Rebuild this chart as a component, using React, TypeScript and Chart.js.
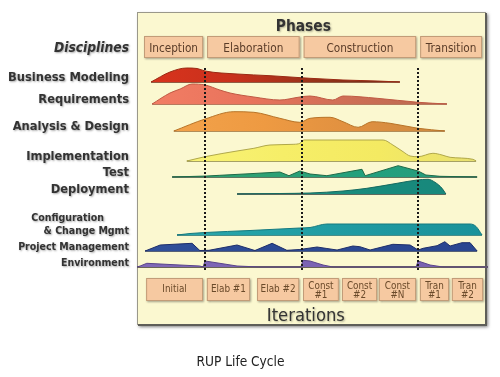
import React, { useEffect, useRef } from 'react';
import { Chart, registerables } from 'chart.js';

Chart.register(...registerables);

// ---------------- data ----------------
// Timeline: % of project duration (0-100). Effort: relative units above each lane.
const phaseNames = ['Inception', 'Elaboration', 'Construction', 'Transition'];
const phaseBounds = [2, 19.4, 46.9, 80.1, 98.3];

const iterationLabels = ['Initial', 'Elab #1', 'Elab #2', 'Const\n#1', 'Const\n#2', 'Const\n#N', 'Tran\n#1', 'Tran\n#2'];
const iterationStarts = [2.6, 19.9, 34.2, 47.3, 58.4, 68.9, 80.6, 89.7];
const iterationEnds = [18.8, 32.2, 46.2, 57.5, 68.4, 79.5, 88.9, 98.6];

const disciplines = [
  'Business Modeling',
  'Requirements',
  'Analysis & Design',
  'Implementation',
  'Test',
  'Deployment',
  'Configuration\n& Change Mgmt',
  'Project Management',
  'Environment',
];
const laneBase = [245, 223, 196, 166, 150, 133, 92, 76, 60];

const bmX = [4.0, 9.4, 14.2, 17.1, 19.4, 28.5, 37.9, 49.3, 58.7, 68.4, 74.9];
const bmH = [0, 10, 14, 13.5, 11, 8, 6.3, 3.7, 2, 1, 0];

const reqX = [4.3, 9.4, 12.3, 15.7, 19.4, 23.6, 26.5, 33.3, 40.7, 46.4, 49.3, 55.8, 58.7, 68.4, 80.1, 88.3];
const reqH = [0, 11, 15, 20, 19, 14, 11, 7, 4, 7, 8, 4, 8, 5.7, 1.7, 0];

const adX = [10.5, 19.4, 27.6, 33.3, 40.7, 46.4, 49.3, 55.0, 58.7, 63.0, 67.0, 72.1, 80.1, 87.7];
const adH = [0, 12, 19.3, 18.7, 12.7, 8.7, 12.7, 13.7, 9.3, 3.7, 9.3, 7.7, 2.7, 0];

const implX = [14.2, 19.4, 28.5, 33.3, 37.9, 44.7, 46.4, 47.6, 70.1, 72.9, 75.8, 77.8, 80.1, 84.3, 86.9, 89.2, 95.7, 96.6];
const implH = [0, 4.3, 10, 12.7, 16, 16.7, 17.7, 21, 21, 16, 9.3, 5, 4.3, 7.7, 6, 3.7, 1.7, 0];

const testX = [10.0, 19.9, 23.6, 32.2, 40.7, 43.3, 46.4, 49.3, 54.1, 64.1, 65.0, 74.4, 80.1, 82.3, 86.3, 96.9];
const testH = [0, 1, 1.7, 3.3, 5, 1.3, 6, 3, 1.3, 7.7, 1.3, 11.3, 6, 2, 0.7, 0];

const deployX = [28.5, 40.7, 49.3, 58.7, 65.5, 74.1, 79.8, 82.9, 84.9, 86.9, 88.0];
const deployH = [0, 0.5, 1, 3, 5.7, 10.7, 14, 14.7, 11.7, 5.7, 0];

const cfgX = [11.4, 15.1, 19.4, 32.2, 46.4, 49.3, 54.1, 94.9, 96.6, 98.3];
const cfgH = [0, 1.5, 2.5, 4.5, 7, 7.5, 11, 11, 8.5, 0];

const pmX = [2.3, 6.6, 15.7, 17.9, 20.5, 28.5, 33.6, 38.5, 42.7, 46.4, 51.3, 54.1, 57.0, 61.5, 63.5, 66.4, 72.9, 77.8, 80.1, 81.5, 85.5, 87.7, 89.2, 92.6, 94.9, 96.9];
const pmH = [0, 6, 7.7, 0.5, 0.7, 6, 0.5, 7.7, 0.7, 1.5, 4, 2.5, 1, 5, 4.3, 1, 6.7, 6, 1, 2.7, 5.3, 9.3, 5, 8.3, 8.3, 0];

const envX = [0, 0.9, 2.8, 9.4, 17.9, 18.8, 19.4, 28.5, 35.0, 46.7, 47.3, 49.3, 53.0, 55.8, 79.5, 80.1, 83.5, 87.2, 100];
const envH = [0, 1, 3.7, 2.5, 1, 0, 6, 1, 0, 0, 6.7, 6, 2, 0, 0, 6, 2, 0, 0];

// ---------------- styles ----------------
const profilesX = [bmX, reqX, adX, implX, testX, deployX, cfgX, pmX, envX];
const profilesH = [bmH, reqH, adH, implH, testH, deployH, cfgH, pmH, envH];

const fillStops: string[][] = [
  ['#D8331D', '#C8311C', '#963319', '#6E2E18'],
  ['#F27D64', '#E8735C', '#CE6E55', '#B86A50'],
  ['#F2A24A', '#EE9A42', '#E09040', '#CC8A40'],
  ['#F8F276', '#F6EE68', '#F4EA62', '#E8E070'],
  ['#2FA272', '#2CA074', '#22A07E', '#2A9A7A'],
  ['#1E9484', '#1C8E80', '#188A7C', '#18887C'],
  ['#2AA6AA', '#22A0A6', '#1E98A0', '#1A929A'],
  ['#30509A', '#2C4A94', '#2A4892', '#2A4690'],
  ['#8068B8', '#7C64B4', '#7A62B2', '#7860B0'],
];
const borderColors = ['#9A2A14', '#C05A44', '#B87428', '#B0A84A', '#1E6A48', '#156A60', '#157A80', '#1E2E6A', '#5A448A'];
const baseColors = ['#6E2814', '#A05038', '#9A6A30', '#8A8440', '#2A4A3A', '#2A3A38', '#0E6A70', '#1E2E5A', '#6A6458'];
const angular = [false, false, false, false, true, false, false, true, true];

const FONT = "Tahoma, 'DejaVu Sans Condensed', 'Liberation Sans', Arial, sans-serif";

function fitFont(ctx: CanvasRenderingContext2D, text: string, target: number, weight: string, style = 'normal') {
  ctx.font = `${style} ${weight} 20px ${FONT}`;
  const w = ctx.measureText(text).width || 1;
  const size = (20 * target) / w;
  return `${style} ${weight} ${size.toFixed(2)}px ${FONT}`;
}

function drawBox(ctx: CanvasRenderingContext2D, l: number, t: number, w: number, h: number) {
  ctx.save();
  ctx.shadowColor = 'rgba(0,0,0,0.35)';
  ctx.shadowBlur = 2;
  ctx.shadowOffsetX = 1;
  ctx.shadowOffsetY = 1;
  ctx.fillStyle = '#F6C9A1';
  ctx.fillRect(l, t, w, h);
  ctx.restore();
  ctx.strokeStyle = '#C29C78';
  ctx.lineWidth = 1;
  ctx.strokeRect(l + 0.5, t + 0.5, w - 1, h - 1);
}

const rupPlugin = {
  id: 'rup',
  beforeDraw(chart: any) {
    const { ctx, chartArea: a } = chart;
    const ys = chart.scales.y;
    ctx.save();
    ctx.fillStyle = '#ffffff';
    ctx.fillRect(0, 0, chart.width, chart.height);

    // panel
    ctx.save();
    ctx.shadowColor = 'rgba(0,0,0,0.5)';
    ctx.shadowBlur = 3;
    ctx.shadowOffsetX = 2;
    ctx.shadowOffsetY = 2;
    ctx.fillStyle = '#FBF8D0';
    ctx.fillRect(a.left, a.top, a.width - 2, a.height - 2);
    ctx.restore();
    ctx.strokeStyle = '#9A988A';
    ctx.lineWidth = 1;
    ctx.strokeRect(a.left + 0.5, a.top + 0.5, a.width - 3, a.height - 3);
    ctx.strokeStyle = '#5E5E58';
    ctx.lineWidth = 2;
    ctx.beginPath();
    ctx.moveTo(a.right - 2, a.top + 1);
    ctx.lineTo(a.right - 2, a.bottom - 2);
    ctx.lineTo(a.left + 1, a.bottom - 2);
    ctx.stroke();

    // discipline labels
    ctx.save();
    ctx.fillStyle = '#333333';
    ctx.shadowColor = 'rgba(0,0,0,0.35)';
    ctx.shadowBlur = 2;
    ctx.shadowOffsetX = 1;
    ctx.shadowOffsetY = 1;
    ctx.textAlign = 'right';
    ctx.textBaseline = 'alphabetic';
    ctx.font = fitFont(ctx, 'Disciplines', 75, 'bold', 'italic');
    ctx.fillText('Disciplines', a.left - 8, a.top + 40);
    const f1 = fitFont(ctx, disciplines[0], 121, 'bold');
    const f2 = fitFont(ctx, disciplines[7], 111, 'bold');
    disciplines.forEach((name, i) => {
      const lines = name.split('\n');
      ctx.font = i < 6 ? f1 : f2;
      const by = ys.getPixelForValue(laneBase[i]) - 1;
      lines.forEach((t, k) => {
        const ly = by - (lines.length - 1 - k) * 13;
        const rx = a.left - 8 - (lines.length > 1 && k === 0 ? 25 : 0);
        ctx.fillText(t, rx, ly);
      });
    });
    ctx.restore();

    // caption
    ctx.fillStyle = '#222222';
    ctx.textAlign = 'center';
    ctx.font = fitFont(ctx, 'RUP Life Cycle', 88, 'normal');
    ctx.fillText('RUP Life Cycle', chart.width * 0.481, a.bottom + 39);
    ctx.restore();
  },
  beforeDatasetsDraw(chart: any) {
    const { ctx, chartArea: a } = chart;
    const xs = chart.scales.x;
    ctx.save();
    // phases
    const pf = fitFont(ctx, 'Construction', 67, 'normal');
    phaseNames.forEach((n, i) => {
      const l = xs.getPixelForValue(phaseBounds[i]) + (i === 0 ? 0 : 2);
      const r = xs.getPixelForValue(phaseBounds[i + 1]) - (i === phaseNames.length - 1 ? 0 : 2);
      drawBox(ctx, l, a.top + 24, r - l, 22);
      ctx.fillStyle = '#5A3C28';
      ctx.font = pf;
      ctx.textAlign = 'center';
      ctx.textBaseline = 'alphabetic';
      ctx.fillText(n, (l + r) / 2, a.top + 40);
    });
    ctx.save();
    ctx.fillStyle = '#333333';
    ctx.shadowColor = 'rgba(0,0,0,0.3)';
    ctx.shadowBlur = 2;
    ctx.shadowOffsetX = 1;
    ctx.shadowOffsetY = 1;
    ctx.textAlign = 'center';
    ctx.font = fitFont(ctx, 'Phases', 55, 'bold');
    ctx.fillText('Phases', a.left + a.width * 0.474, a.top + 19);
    ctx.font = fitFont(ctx, 'Iterations', 78, 'normal');
    ctx.fillText('Iterations', a.left + a.width * 0.481, a.bottom - 6);
    ctx.restore();

    // iterations
    const itf = fitFont(ctx, 'Elab #1', 35, 'normal');
    iterationLabels.forEach((lab, i) => {
      const l = xs.getPixelForValue(iterationStarts[i]);
      const r = xs.getPixelForValue(iterationEnds[i]);
      drawBox(ctx, l, a.bottom - 49, r - l, 23);
      ctx.fillStyle = '#6A4A2A';
      ctx.font = itf;
      ctx.textAlign = 'center';
      const lines = lab.split('\n');
      if (lines.length === 1) {
        ctx.fillText(lines[0], (l + r) / 2, a.bottom - 35);
      } else {
        ctx.fillText(lines[0], (l + r) / 2, a.bottom - 38);
        ctx.fillText(lines[1], (l + r) / 2, a.bottom - 29);
      }
    });
    ctx.restore();
  },
  afterDatasetsDraw(chart: any) {
    const { ctx, chartArea: a } = chart;
    const xs = chart.scales.x;
    ctx.save();
    ctx.strokeStyle = '#1a1a1a';
    ctx.lineWidth = 2;
    ctx.setLineDash([2, 2]);
    for (let i = 1; i < phaseBounds.length - 1; i++) {
      const px = Math.round(xs.getPixelForValue(phaseBounds[i]));
      ctx.beginPath();
      ctx.moveTo(px, a.top + 56);
      ctx.lineTo(px, a.bottom - 55);
      ctx.stroke();
    }
    ctx.restore();
  },
};

export default function App() {
  const ref = useRef<HTMLCanvasElement>(null);
  useEffect(() => {
    const canvas = ref.current!;
    const datasets: any[] = [];
    disciplines.forEach((name, i) => {
      const xsArr = profilesX[i];
      const hs = profilesH[i];
      const base = laneBase[i];
      const stops = fillStops[i];
      datasets.push({
        label: name,
        data: xsArr.map((x, j) => ({ x, y: base + hs[j] })),
        fill: { value: base },
        backgroundColor: (c: any) => {
          const ch = c.chart;
          const sx = ch.scales && ch.scales.x;
          if (!ch.chartArea || !sx) return stops[1];
          const g = ch.ctx.createLinearGradient(
            sx.getPixelForValue(xsArr[0]), 0,
            sx.getPixelForValue(xsArr[xsArr.length - 1]), 0
          );
          stops.forEach((s, k) => g.addColorStop(k / (stops.length - 1), s));
          return g;
        },
        borderColor: borderColors[i],
        borderWidth: 1,
        pointRadius: 0,
        tension: 0,
        cubicInterpolationMode: angular[i] ? 'default' : 'monotone',
      });
      datasets.push({
        label: name + ' baseline',
        data: [
          { x: xsArr[0], y: base },
          { x: xsArr[xsArr.length - 1], y: base },
        ],
        fill: false,
        borderColor: baseColors[i],
        borderWidth: i === 8 ? 2 : 1.5,
        pointRadius: 0,
      });
    });

    const chart = new Chart(canvas, {
      type: 'line',
      data: { datasets },
      options: {
        responsive: false,
        animation: false,
        events: [],
        layout: { padding: { left: 137, right: 12, top: 12, bottom: 50 } },
        scales: {
          x: { type: 'linear', min: 0, max: 100, display: false },
          y: { type: 'linear', min: 0, max: 315, display: false },
        },
        plugins: {
          legend: { display: false },
          tooltip: { enabled: false },
        },
      },
      plugins: [rupPlugin],
    } as any);
    return () => chart.destroy();
  }, []);

  return (
    <div style={{ position: 'absolute', left: 0, top: 0, width: 500, height: 377, background: '#fff' }}>
      <canvas ref={ref} width={500} height={377} style={{ display: 'block' }} />
    </div>
  );
}
